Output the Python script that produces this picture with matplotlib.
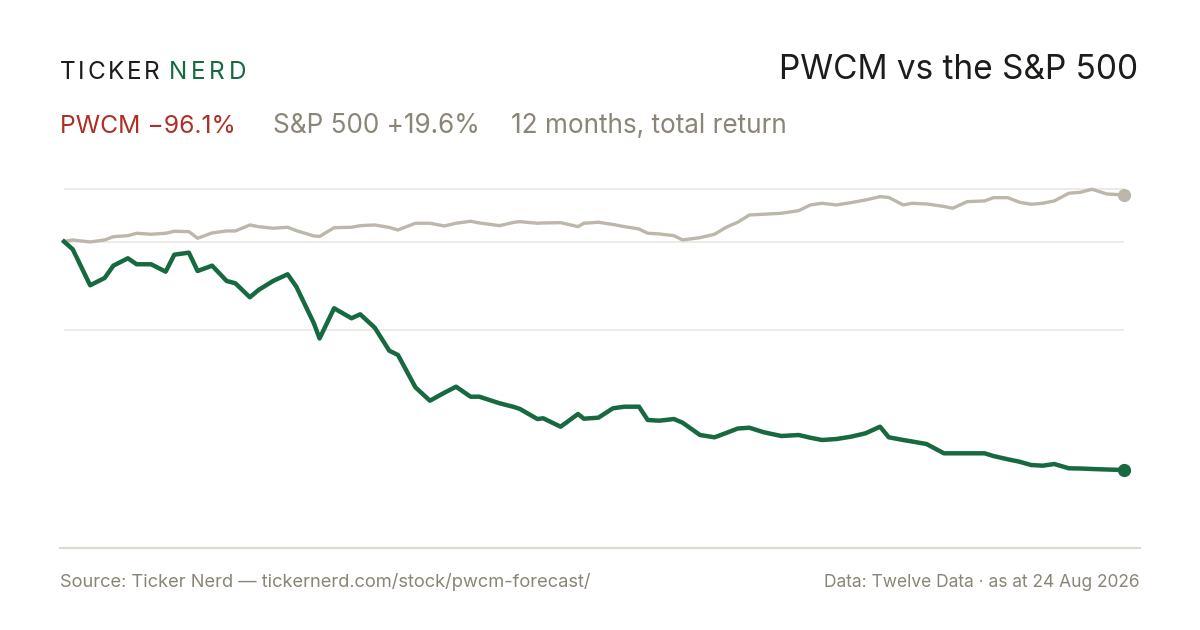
import numpy as np
import matplotlib
matplotlib.use("Agg")
from matplotlib import pyplot as plt
from matplotlib.lines import Line2D

plt.rcParams['font.family'] = ['Inter', 'DejaVu Sans']

# days since start of the 12 month window, shared by both series
days = [0, 3, 9, 14, 17, 22, 25, 30, 35, 38, 43, 46, 51, 56, 59, 64, 67, 72, 77, 80,
        86, 88, 93, 99, 102, 107, 112, 115, 121, 126, 131, 135, 140, 143, 150, 155, 157,
        163, 165, 171, 177, 179, 184, 189, 193, 198, 201, 205, 210, 213, 219, 224, 228,
        232, 236, 241, 247, 253, 257, 261, 266, 271, 276, 281, 284, 289, 292, 297, 303,
        306, 311, 317, 320, 325, 329, 333, 337, 341, 346, 350, 354, 359, 365]

# total return, percent
pwcm = [0, -3.24, -18.39, -15.31, -10.14, -7.03, -9.55, -9.55, -12.66, -5.51, -4.67,
        -12.37, -10.14, -16.58, -17.54, -23.43, -20.36, -16.58, -13.76, -18.97, -34.25,
        -40.77, -28.06, -32.27, -30.59, -36.22, -45.90, -47.71, -61.30, -66.94, -63.57,
        -61.05, -65.26, -65.26, -68.03, -69.59, -70.43, -74.64, -74.34, -77.88, -72.53,
        -74.51, -74.09, -70.14, -69.46, -69.46, -75.06, -75.35, -74.64, -76.19, -81.37,
        -82.34, -80.53, -78.64, -78.30, -80.23, -81.79, -81.37, -82.51, -83.47, -83.05,
        -82.08, -80.65, -77.88, -82.34, -83.47, -84.10, -85.16, -89.07, -89.07, -89.07,
        -89.07, -90.20, -91.59, -92.60, -93.99, -94.28, -93.57, -95.38, -95.46, -95.67,
        -95.88, -96.1]

spx = [0, 0.67, -0.17, 0.67, 2.06, 2.48, 3.49, 3.07, 3.49, 4.33, 4.17, 1.39, 3.62, 4.46,
       4.46, 6.98, 6.27, 5.60, 6.02, 4.59, 2.36, 2.15, 5.81, 6.02, 6.69, 6.98, 5.93, 4.88,
       7.70, 7.70, 6.56, 7.70, 8.54, 7.83, 6.69, 8.12, 8.37, 7.70, 7.83, 7.95, 6.27, 7.70,
       8.12, 7.19, 6.27, 5.30, 3.49, 3.20, 2.48, 0.67, 1.64, 3.07, 6.02, 8.12, 11.19,
       11.49, 11.91, 13.00, 15.40, 16.11, 15.40, 16.37, 17.50, 18.89, 18.55, 15.40, 16.11,
       15.82, 14.77, 14.01, 16.79, 17.08, 18.47, 18.47, 16.53, 15.69, 16.11, 17.08, 20.32,
       20.74, 22.00, 20.03, 19.6]

ticker = "PWCM"
pwcm_ret = "\u221296.1%"
spx_ret = "+19.6%"

GREEN = "#17693f"
SAND = "#bdb6aa"
RED = "#ad2f26"
MUTED = "#8a8577"
INK = "#1c1c1a"
GRID = "#ece9e3"

W, H = 1200, 630
fig = plt.figure(figsize=(W / 100, H / 100), dpi=100)
fig.patch.set_facecolor("white")


def fx(px):
    return px / W


def fy(py):
    return 1 - py / H


# plot area: x 64..1124 px, y 170..548 px
ax = fig.add_axes([fx(64), fy(548), fx(1124) - fx(64), fy(170) - fy(548)])
ax.set_xlim(0, 365)
ax.set_ylim(-128.9, 30.1)
ax.axis("off")

hi = max(max(pwcm), max(spx))
lo = min(min(pwcm), min(spx))
for level in [hi, 0, (hi + lo) / 2]:
    ax.axhline(level, color=GRID, lw=1.3, zorder=1)

ax.plot(days, spx, color=SAND, lw=2.4, solid_joinstyle="round", zorder=3, clip_on=False)
ax.plot(days, pwcm, color=GREEN, lw=3.2, solid_joinstyle="round", zorder=4, clip_on=False)
ax.plot(days[-1], spx[-1], "o", color=SAND, ms=8.5, zorder=5, clip_on=False)
ax.plot(days[-1], pwcm[-1], "o", color=GREEN, ms=8.5, zorder=5, clip_on=False)

# bottom rule
fig.add_artist(Line2D([fx(60), fx(1140)], [fy(548), fy(548)], color="#dedad0", lw=1.5))

# logo with letter spacing
renderer = fig.canvas.get_renderer()
x = 60
for word, col, gap in [("TICKER", INK, 2.6), ("NERD", GREEN, 3.6)]:
    for ch in word:
        t = fig.text(fx(x), fy(79), ch, fontsize=17.5, color=col, va="baseline", ha="left")
        x += t.get_window_extent(renderer).width + gap
    x += 7

fig.text(fx(1138), fy(79), f"{ticker} vs the S&P 500", fontsize=24, color=INK,
         ha="right", va="baseline")

fig.text(fx(60), fy(133), f"{ticker} {pwcm_ret}", fontsize=17.8, color=RED, va="baseline")
fig.text(fx(273), fy(133), f"S&P 500 {spx_ret}", fontsize=18.8, color=MUTED, va="baseline")
fig.text(fx(511), fy(133), "12 months, total return", fontsize=18.8, color=MUTED, va="baseline")

fig.text(fx(60), fy(587), "Source: Ticker Nerd \u2014 tickernerd.com/stock/pwcm-forecast/",
         fontsize=13.2, color=MUTED, va="baseline")
fig.text(fx(1140), fy(587), "Data: Twelve Data \u00b7 as at 24 Aug 2026",
         fontsize=12.5, color=MUTED, va="baseline", ha="right")

fig.savefig("out.png", dpi=100, facecolor="white")
